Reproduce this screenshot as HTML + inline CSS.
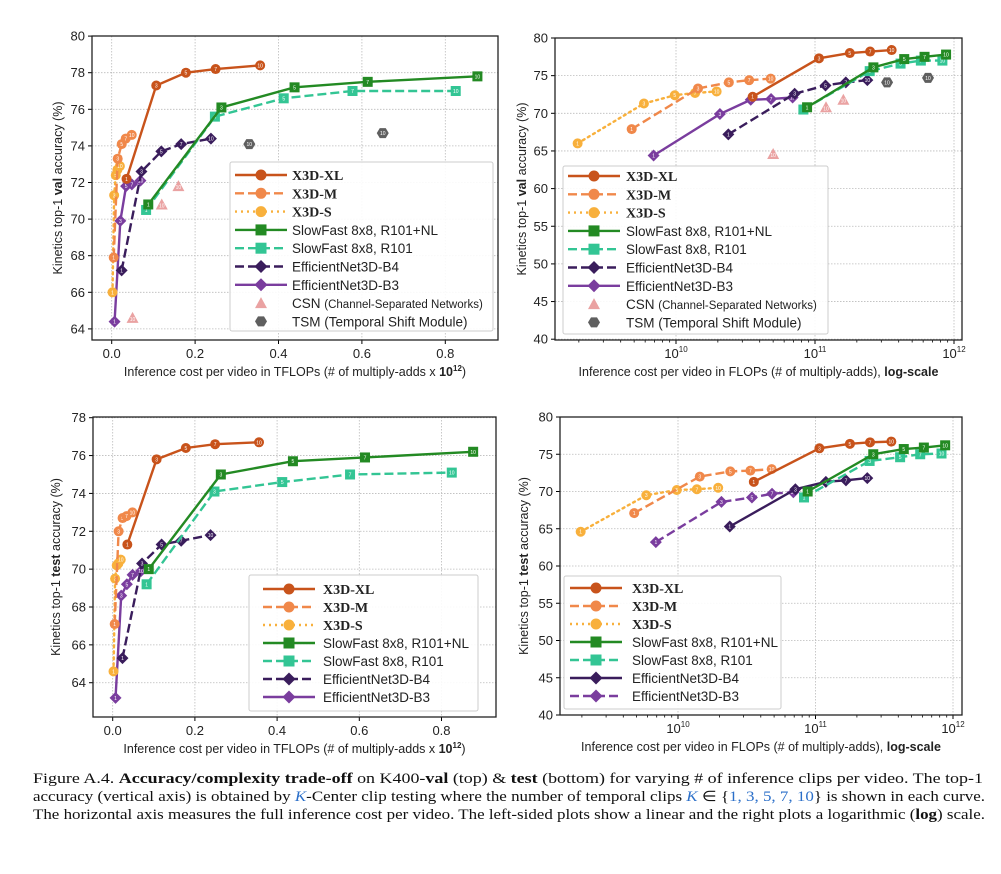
<!DOCTYPE html>
<html><head><meta charset="utf-8"><style>
html,body{margin:0;padding:0;background:#fff;width:1001px;height:874px;overflow:hidden}
svg{display:block}
text{font-family:"Liberation Sans",sans-serif}
</style></head><body>
<svg id="s" width="1001" height="874" xmlns="http://www.w3.org/2000/svg"></svg>
<script>
const S=document.getElementById('s');let out='';
const C={XL:'#c8531b',M:'#f0884a',S:'#f8b03c',NL:'#238a23',R:'#33c594',B4:'#3a1d5c',B3:'#7a3d9e',CSN:'#eaa2a2',TSM:'#5f5f5f'};
const K=[1,3,5,7,10];
const base={XL:.0356,M:.0048,S:.00196,NL:.0877,R:.0825,B4:.0238,B3:.0069};
const val={XL:[72.2,77.3,78.0,78.2,78.4],M:[67.9,73.3,74.1,74.4,74.6],S:[66.0,71.3,72.4,72.7,72.9],NL:[70.8,76.1,77.2,77.5,77.8],R:[70.5,75.6,76.6,77.0,77.0],B4:[67.2,72.6,73.7,74.1,74.4],B3:[64.4,69.9,71.8,71.9,72.1]};
const tst={XL:[71.3,75.8,76.4,76.6,76.7],M:[67.1,72.0,72.7,72.8,73.0],S:[64.6,69.5,70.2,70.3,70.5],NL:[70.0,75.0,75.7,75.9,76.2],R:[69.2,74.1,74.6,75.0,75.1],B4:[65.3,70.3,71.3,71.5,71.8],B3:[63.2,68.6,69.2,69.7,69.9]};
const dash={XL:'',M:'9,4',S:'2,4',NL:'',R:'9,4',B4:'9,4',B3:''};
const mk={XL:'o',M:'o',S:'o',NL:'s',R:'s',B4:'d',B3:'d'};
function marker(t,x,y,c,r){r=r||5;
 if(t=='o')return `<circle cx="${x}" cy="${y}" r="${r}" fill="${c}"/>`;
 if(t=='s')return `<rect x="${x-r}" y="${y-r}" width="${2*r}" height="${2*r}" fill="${c}"/>`;
 if(t=='d')return `<polygon points="${x},${y-r-1} ${x+r+1},${y} ${x},${y+r+1} ${x-r-1},${y}" fill="${c}"/>`;
 if(t=='t')return `<polygon points="${x},${y-6} ${x+6},${y+5} ${x-6},${y+5}" fill="${c}"/>`;
 if(t=='h')return `<polygon points="${x-3},${y-5} ${x+3},${y-5} ${x+6},${y} ${x+3},${y+5} ${x-3},${y+5} ${x-6},${y}" fill="${c}"/>`;}
function lbl(x,y,k){return `<text x="${x}" y="${y+2}" font-size="5" fill="#fff" text-anchor="middle">${k}</text>`;}
function plot(P){
 const {x0,x1,y0,y1,xm,ym}=P;
 P.yt.forEach(v=>{const y=ym(v);out+=`<line x1="${x0}" x2="${x1}" y1="${y}" y2="${y}" stroke="#bbb" stroke-width="0.8" stroke-dasharray="1.5,1.5"/>`;
  out+=`<line x1="${x0-4}" x2="${x0}" y1="${y}" y2="${y}" stroke="#000"/><text x="${x0-7}" y="${y+4.5}" font-size="13" text-anchor="end" fill="#222">${v}</text>`;});
 P.xt.forEach(([v,l])=>{const x=xm(v);out+=`<line y1="${y0}" y2="${y1}" x1="${x}" x2="${x}" stroke="#bbb" stroke-width="0.8" stroke-dasharray="1.5,1.5"/>`;
  out+=`<line y1="${y1}" y2="${y1+4}" x1="${x}" x2="${x}" stroke="#000"/><text x="${x}" y="${y1+18}" font-size="13" text-anchor="middle" fill="#222">${l}</text>`;});
 if(P.log){for(let d=9;d<12;d++)for(let m=2;m<10;m++){const x=xm(m*Math.pow(10,d-12));if(x>x0&&x<x1)out+=`<line y1="${y1}" y2="${y1+2.5}" x1="${x}" x2="${x}" stroke="#000" stroke-width="0.8"/>`;}}
 const D=P.data;
 P.extra&&P.extra();
 ['B3','B4','R','NL','S','M','XL'].forEach(k=>{
  const pts=K.map((n,i)=>[xm(base[k]*n),ym(D[k][i])]);
  const ds=P.dash[k];
  out+=`<polyline points="${pts.map(p=>p.join(',')).join(' ')}" fill="none" stroke="${C[k]}" stroke-width="2.4" ${ds?`stroke-dasharray="${ds}"`:''} ${k=='S'?'stroke-linecap="round"':''}/>`;
  pts.forEach((p,i)=>{out+=marker(mk[k],p[0],p[1],C[k]);out+=lbl(p[0],p[1],K[i]);});
 });
 out+=`<rect x="${x0}" y="${y0}" width="${x1-x0}" height="${y1-y0}" fill="none" stroke="#222" stroke-width="1.3"/>`;
 const cy=(y0+y1)/2;
 out+=`<text transform="translate(${P.ylx},${cy}) rotate(-90)" font-size="12.5" text-anchor="middle" fill="#222">Kinetics top-1 <tspan font-weight="bold">${P.yw}</tspan> accuracy (%)</text>`;
 out+=`<text x="${(x0+x1)/2}" y="${y1+36}" font-size="12.5" text-anchor="middle" fill="#222">${P.xl}</text>`;
 const L=P.leg;
 out+=`<rect x="${L.x}" y="${L.y}" width="${L.w}" height="${L.h}" fill="#fff" fill-opacity="0.9" stroke="#ccc" rx="2"/>`;
 const names=[['XL','X3D-XL',1],['M','X3D-M',1],['S','X3D-S',1],['NL','SlowFast 8x8, R101+NL'],['R','SlowFast 8x8, R101'],['B4','EfficientNet3D-B4'],['B3','EfficientNet3D-B3']];
 names.forEach(([k,n,b],i)=>{const y=L.r0+i*L.dy;const ds=P.dash[k];
  out+=`<line x1="${L.lx}" x2="${L.lx+52}" y1="${y}" y2="${y}" stroke="${C[k]}" stroke-width="2.4" ${ds?`stroke-dasharray="${ds}"`:''}/>`;
  out+=marker(mk[k],L.lx+26,y,C[k],5.5);
  out+=b?`<text x="${L.tx}" y="${y+5}" style="font-family:'Liberation Serif',serif;font-weight:bold;font-size:14px" fill="#222">${n}</text>`:`<text x="${L.tx}" y="${y+5}" font-size="13.5" fill="#222">${n}</text>`;});
 if(P.csn){let y=L.r0+7*L.dy;out+=marker('t',L.lx+26,y,C.CSN)+`<text x="${L.tx}" y="${y+5}" font-size="13.5" fill="#222">CSN <tspan font-size="11.5">(Channel-Separated Networks)</tspan></text>`;
  y+=L.dy;out+=marker('h',L.lx+26,y,C.TSM)+`<text x="${L.tx}" y="${y+5}" font-size="13.5" fill="#222">TSM (Temporal Shift Module)</text>`;}
}
function extras(xm,ym){return ()=>{[[.05,64.6],[.12,70.8],[.16,71.8]].forEach(p=>{out+=marker('t',xm(p[0]),ym(p[1]),C.CSN)+lbl(xm(p[0]),ym(p[1])+1,'10');});
 [[.33,74.1],[.65,74.7]].forEach(p=>{out+=marker('h',xm(p[0]),ym(p[1]),C.TSM)+lbl(xm(p[0]),ym(p[1]),'10');});};}
const linX=[[0,'0.0'],[.2,'0.2'],[.4,'0.4'],[.6,'0.6'],[.8,'0.8']];
const lgX=[[.01,'10<tspan font-size="8" dy="-6">10</tspan>'],[.1,'10<tspan font-size="8" dy="-6">11</tspan>'],[1,'10<tspan font-size="8" dy="-6">12</tspan>']];
const xlLin='Inference cost per video in TFLOPs (# of multiply-adds x <tspan font-weight="bold">10<tspan font-size="8" dy="-5">12</tspan></tspan><tspan dy="5">)</tspan>';
const xlLog='Inference cost per video in FLOPs (# of multiply-adds), <tspan font-weight="bold">log-scale</tspan>';
let xm=v=>111.7+v*417, ym=v=>36.1+(80-v)*18.3;
plot({x0:92,x1:498,y0:36,y1:340,xm,ym,yt:[64,66,68,70,72,74,76,78,80],xt:linX,data:val,dash,yw:'val',ylx:62,xl:xlLin,csn:1,extra:extras(xm,ym),
 leg:{x:230,y:162,w:263,h:169,r0:175,dy:18.3,lx:235,tx:292}});
let xm2=v=>676+139*(Math.log10(v)+2), ym2=v=>38+(80-v)*7.53;
plot({x0:555,x1:962,y0:38,y1:340,xm:xm2,ym:ym2,yt:[40,45,50,55,60,65,70,75,80],xt:lgX,log:1,data:val,dash,yw:'val',ylx:526,xl:xlLog,csn:1,extra:extras(xm2,ym2),
 leg:{x:563,y:166,w:265,h:168,r0:176,dy:18.3,lx:568,tx:626}});
let xm3=v=>112.7+v*411, ym3=v=>417.7+(78-v)*18.93;
plot({x0:93,x1:496,y0:417,y1:717,xm:xm3,ym:ym3,yt:[64,66,68,70,72,74,76,78],xt:linX,data:tst,dash,yw:'test',ylx:60,xl:xlLin,
 leg:{x:249,y:575,w:229,h:136,r0:589,dy:18,lx:263,tx:323}});
let xm4=v=>678+137.5*(Math.log10(v)+2), ym4=v=>417+(80-v)*7.45;
const dash2=Object.assign({},dash,{B4:'',B3:'9,4'});
plot({x0:560,x1:962,y0:417,y1:715,xm:xm4,ym:ym4,yt:[40,45,50,55,60,65,70,75,80],xt:lgX,log:1,data:tst,dash:dash2,yw:'test',ylx:528,xl:xlLog,
 leg:{x:564,y:576,w:217,h:133,r0:588,dy:18,lx:570,tx:632}});
const cf=`style="font-family:'Liberation Serif',serif;font-size:14.5px" fill="#111" lengthAdjust="spacingAndGlyphs"`;
out+=`<text x="33" y="783" ${cf} textLength="950">Figure A.4. <tspan font-weight="bold">Accuracy/complexity trade-off</tspan> on K400-<tspan font-weight="bold">val</tspan> (top) &amp; <tspan font-weight="bold">test</tspan> (bottom) for varying # of inference clips per video.  The top-1</text>`;
out+=`<text x="33" y="801" ${cf} textLength="952">accuracy (vertical axis) is obtained by <tspan fill="#2b6fc9" font-style="italic">K</tspan>-Center clip testing where the number of temporal clips <tspan fill="#2b6fc9" font-style="italic">K</tspan> ∈ {<tspan fill="#2b6fc9">1, 3, 5, 7, 10</tspan>} is shown in each curve.</text>`;
out+=`<text x="33" y="819" ${cf} textLength="952">The horizontal axis measures the full inference cost per video. The left-sided plots show a linear and the right plots a logarithmic (<tspan font-weight="bold">log</tspan>) scale.</text>`;
S.innerHTML=out;
</script>
</body></html>
